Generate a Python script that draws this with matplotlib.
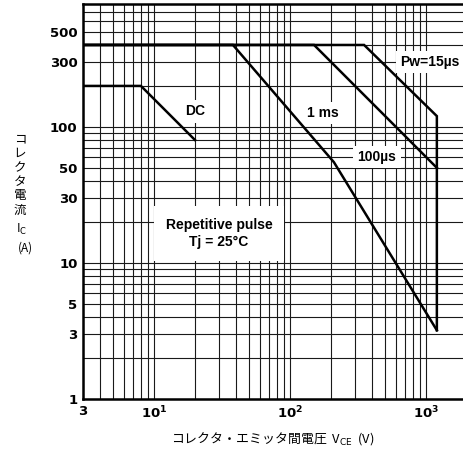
import numpy as np
import matplotlib
matplotlib.use('Agg')
import matplotlib.pyplot as plt
from matplotlib.ticker import FixedLocator, LogLocator, NullFormatter

# SOA curves: V_CE (V) vs I_C (A)
dc_v = [3, 8, 20]
dc_i = [200, 200, 80]
ms1_v = [3, 38, 210, 1200]
ms1_i = [400, 400, 55, 3.2]
us100_v = [3, 150, 1200]
us100_i = [400, 400, 50]
us15_v = [3, 350, 1200, 1200]
us15_i = [400, 400, 120, 3.2]

x_ticks = [3, 10, 100, 1000]
x_labels = ['3', r'$\mathbf{10^{1}}$', r'$\mathbf{10^{2}}$', r'$\mathbf{10^{3}}$']
y_ticks = [1, 3, 5, 10, 30, 50, 100, 300, 500]
y_labels = ['1', '3', '5', '10', '30', '50', '100', '300', '500']

curve_labels = ['DC', '1 ms', '100µs', 'Pw=15µs']
label_v = [20, 175, 435, 1070]
label_i = [130, 127, 60, 300]

W, H = 464, 451
fig = plt.figure(figsize=(W / 100, H / 100), dpi=100)
ax = fig.add_axes([83 / W, 52 / H, 381 / W, 395 / H])
ax.set_xscale('log')
ax.set_yscale('log')
ax.set_xlim(3, 1900)
ax.set_ylim(1, 800)

for axis in (ax.xaxis, ax.yaxis):
    axis.set_minor_locator(LogLocator(base=10, subs=np.arange(1, 10)))
    axis.set_minor_formatter(NullFormatter())
ax.xaxis.set_major_locator(FixedLocator(x_ticks))
ax.yaxis.set_major_locator(FixedLocator(y_ticks))
ax.set_xticklabels(x_labels)
ax.set_yticklabels(y_labels)
ax.tick_params(which='both', length=0)
ax.tick_params(axis='x', pad=4)
ax.tick_params(axis='y', pad=4)
for lab in ax.get_xticklabels() + ax.get_yticklabels():
    lab.set_fontsize(9.5)
    lab.set_fontweight('bold')
ax.grid(which='both', color='#1a1a1a', lw=0.8, zorder=0)
ax.set_axisbelow(True)

for s in ('left', 'bottom', 'top'):
    ax.spines[s].set_linewidth(1.8)
ax.spines['right'].set_visible(False)

kw = dict(color='black', lw=1.8, solid_joinstyle='miter', zorder=5)
ax.plot(dc_v, dc_i, **kw)
ax.plot(ms1_v, ms1_i, **kw)
ax.plot(us100_v, us100_i, **kw)
ax.plot(us15_v, us15_i, **kw)

fam = ['Liberation Sans', 'DejaVu Sans']
for txt, v, i in zip(curve_labels, label_v, label_i):
    ax.text(v, i, txt, ha='center', va='center', fontsize=10, fontweight='bold',
            family=fam, zorder=4,
            bbox=dict(boxstyle='square,pad=0.3', fc='white', ec='none'))

ax.text(30, 16.5, 'Repetitive pulse\nTj = 25°C', ha='center', va='center',
        fontsize=10, fontweight='bold', family=fam, linespacing=1.25, zorder=4,
        bbox=dict(boxstyle='square,pad=0.85', fc='white', ec='none'))

# y label, stacked vertically
jp = ['Noto Sans CJK JP', 'DejaVu Sans']
ychars = ['コ', 'レ', 'ク', 'タ', '電', '流']
for k, ch in enumerate(ychars):
    fig.text(20 / W, 1 - (139 + 14.2 * k) / H, ch, ha='center', va='center',
             fontsize=9, family=jp)
fig.text(21 / W, 1 - 229 / H, r'I$_{\rm C}$', ha='center', va='center',
         fontsize=8.5, family=jp)
fig.text(25 / W, 1 - 248 / H, '(A)', ha='center', va='center', fontsize=8.5, family=jp)

fig.text(273 / W, 1 - 439 / H, 'コレクタ・エミッタ間電圧  V$_{\\rm CE}$  (V)',
         ha='center', va='center', fontsize=9.3, family=jp)

fig.savefig('out.png', dpi=100)
